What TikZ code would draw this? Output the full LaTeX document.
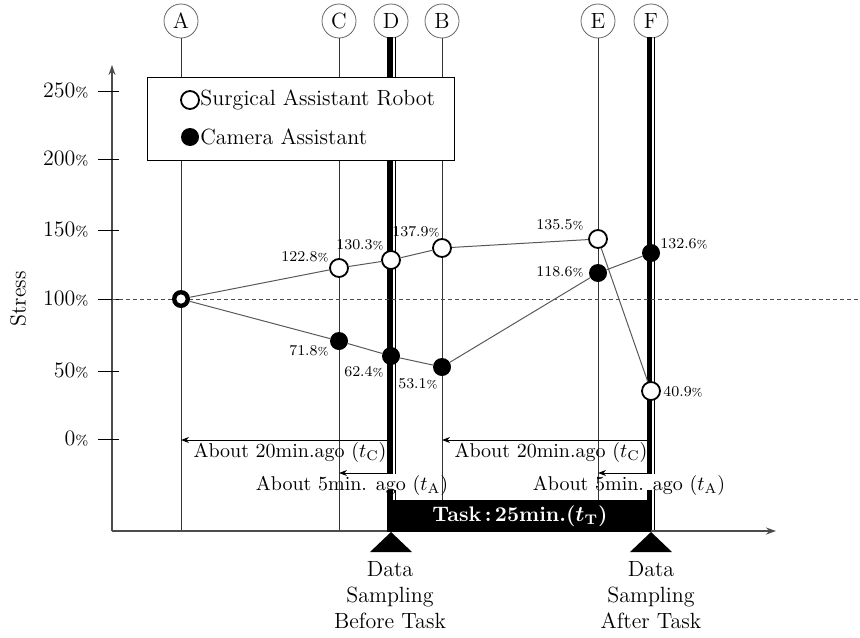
\documentclass[tikz,border=0pt]{standalone}
\usepackage{amsmath}
\usepackage{tikz}
\usetikzlibrary{arrows.meta}

\newcommand{\pct}{{\fontsize{7}{7}\selectfont\%}}
\newcommand{\spct}{{\fontsize{5.5}{6}\selectfont\%}}

\begin{document}
\begin{tikzpicture}[x=0.5pt,y=-0.5pt]
\tikzstyle{every node}+=[inner sep=0pt]
\tikzstyle{txt}=[font=\fontsize{11}{13}\selectfont]
\tikzstyle{agotxt}=[font=\fontsize{10}{12}\selectfont]
\tikzstyle{val}=[font=\fontsize{7.5}{9}\selectfont]
\tikzstyle{tag}=[circle,draw=black!60,fill=white,minimum size=17pt,font=\fontsize{11}{13}\selectfont]
\tikzstyle{guide}=[draw=black!80,line width=0.5pt]
\tikzstyle{wpt}=[circle,draw=black,fill=white,line width=0.9pt,minimum size=9pt]
\tikzstyle{bpt}=[circle,fill=black,minimum size=9pt]
\tikzstyle{link}=[draw=black!65,line width=0.5pt]
\tikzstyle{ago}=[-{Stealth[length=4pt,width=3pt]},line width=0.5pt]
\useasboundingbox (0,0) rectangle (860,637);
% guide lines with their letters
\foreach \n/\x in {A/181,C/339,B/442,E/598} {
  \node[tag] (\n) at (\x,21) {\n};
  \coordinate (\n0) at (\x,531);
  \draw[guide] (\n) -- (\n0);
}
\node[tag] (D) at (391,21) {D};
\node[tag] (F) at (651,21) {F};
% sampling lines (thick + thin)
\draw[line width=3pt] (390,37) -- (390,474);
\draw[line width=3pt] (390,490) -- (390,531);
\draw[line width=0.7pt] (395.3,37) -- (395.3,474);
\draw[line width=0.7pt] (395.3,490) -- (395.3,531);
\draw[line width=2.6pt] (649.5,37) -- (649.5,474);
\draw[line width=2.6pt] (649.5,490) -- (649.5,531);
\draw[line width=0.7pt] (654.3,37) -- (654.3,474);
\draw[line width=0.7pt] (654.3,490) -- (654.3,531);
% axes
\draw[black!70,line width=0.7pt,-{Stealth[length=5pt,width=3.5pt]}] (112,531) -- (112,65);
\draw[black!70,line width=0.7pt,-{Stealth[length=5pt,width=3.5pt]}] (112,531) -- (776,531);
\foreach \v/\y in {250/91,200/159,150/230,100/299,50/371,0/439} {
  \draw[black,line width=0.5pt] (98,\y) -- (119,\y);
  \node[txt,anchor=east] (y\v) at (89,\y) {\v\pct};
}
\node[txt,rotate=90] (ylab) at (18,299) {Stress};
\draw[black!70,dashed,dash pattern=on 2pt off 1.5pt,line width=0.5pt] (112,299) -- (860,299);
% legend
\draw[black,fill=white,line width=0.5pt] (147,77) rectangle (454,160);
\node[wpt] (lw) at (190,100) {};
\node[txt,anchor=west] (lwt) at (200,100) {Surgical Assistant Robot};
\node[bpt] (lb) at (190,137) {};
\node[txt,anchor=west] (lbt) at (200,137) {Camera Assistant};
% data points
\node[bpt,minimum size=9pt] (p0) at (181,299) {};
\node[wpt] (rC) at (339,268) {};
\node[wpt] (rD) at (391,260) {};
\node[wpt] (rB) at (442,248) {};
\node[wpt] (rE) at (598,239) {};
\node[wpt] (rF) at (651,391) {};
\node[bpt] (cC) at (339,341) {};
\node[bpt] (cD) at (391,356) {};
\node[bpt] (cB) at (442,367) {};
\node[bpt] (cE) at (598,273) {};
\node[bpt] (cF) at (651,253) {};
\draw[link] (p0) -- (rC) -- (rD) -- (rB) -- (rE) -- (rF);
\draw[link] (p0) -- (cC) -- (cD) -- (cB) -- (cE) -- (cF);
\fill[white] (181,299) circle (4.6);
% values
\node[val,anchor=east] (v1) at (329,257) {122.8\spct};
\node[val,anchor=east] (v2) at (384,245) {130.3\spct};
\node[val,anchor=east] (v3) at (440,232) {137.9\spct};
\node[val,anchor=east] (v4) at (584,225) {135.5\spct};
\node[val,anchor=west] (v5) at (660,244) {132.6\spct};
\node[val,anchor=east] (v6) at (584,272) {118.6\spct};
\node[val,anchor=east] (v7) at (329,351) {71.8\spct};
\node[val,anchor=east] (v8) at (384,372) {62.4\spct};
\node[val,anchor=east] (v9) at (438,384) {53.1\spct};
\node[val,anchor=west] (v10) at (663,392) {40.9\spct};
% time spans
\coordinate (s1) at (387,440);
\coordinate (e1) at (181,440);
\coordinate (s2) at (387,473);
\coordinate (e2) at (339,473);
\coordinate (s3) at (647,440);
\coordinate (e3) at (442,440);
\coordinate (s4) at (647,473);
\coordinate (e4) at (598,473);
\draw[ago] (s1) -- (e1);
\draw[ago] (s2) -- (e2);
\draw[ago] (s3) -- (e3);
\draw[ago] (s4) -- (e4);
\node[agotxt] (a1) at (290,452) {About 20min.ago ($t_{\mathrm{C}}$)};
\node[agotxt] (a2) at (352,485) {About 5min. ago ($t_{\mathrm{A}}$)};
\node[agotxt] (a3) at (551,452) {About 20min.ago ($t_{\mathrm{C}}$)};
\node[agotxt] (a4) at (629,485) {About 5min. ago ($t_{\mathrm{A}}$)};
% task bar
\fill[black] (387,500) rectangle (651,532);
\node[font=\fontsize{10.5}{12}\selectfont\bfseries,text=white] (task) at (520,516) {Task\,:\,25min.($\boldsymbol{t}_{\mathbf{T}}$)};
\fill[black] (391,532) -- (370,552) -- (412,552) -- cycle;
\fill[black] (651,532) -- (630,552) -- (672,552) -- cycle;
\node[txt,align=center,anchor=north] (ds1) at (390,561) {Data\\Sampling\\Before Task};
\node[txt,align=center,anchor=north] (ds2) at (651,561) {Data\\Sampling\\After Task};
\end{tikzpicture}
\end{document}
